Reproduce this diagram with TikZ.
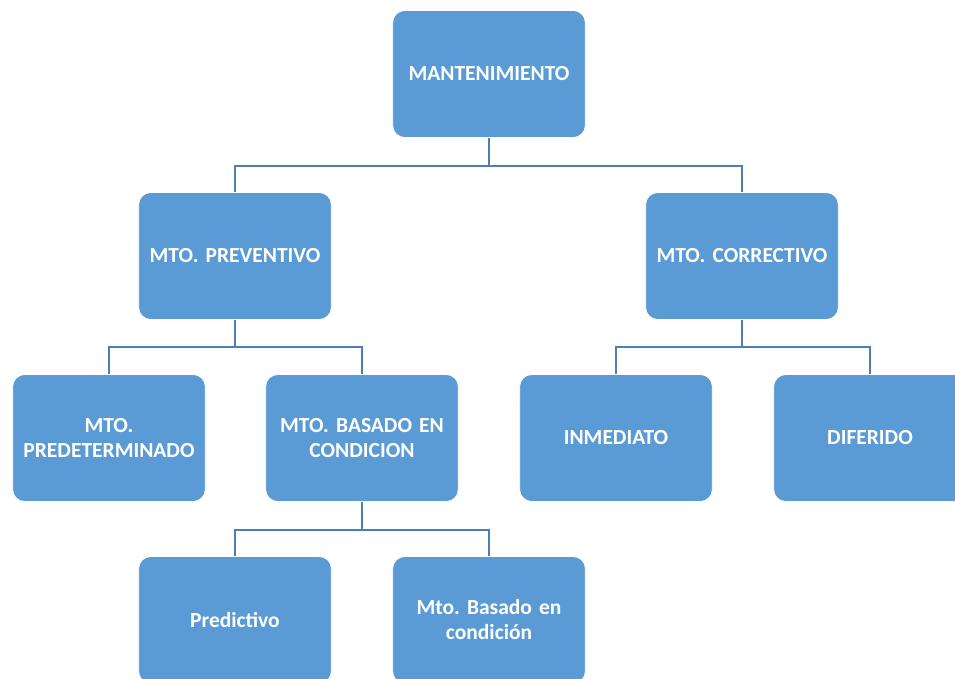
\documentclass[tikz,border=0pt]{standalone}
\usepackage{fontspec}
\setmainfont{Carlito}
\usetikzlibrary{positioning}
\definecolor{boxblue}{HTML}{5B9BD5}
\definecolor{lineblue}{HTML}{4A7EB4}
\frenchspacing

\begin{document}
\begin{tikzpicture}[
    x=1pt, y=-1pt,
    bluebox/.style={rectangle, rounded corners=12pt, fill=boxblue, draw=white, line width=0.8pt,
        minimum width=192pt, minimum height=127pt, text width=186pt, align=center,
        text=white, font=\fontsize{21.5}{25}\selectfont\bfseries},
    joint/.style={draw=lineblue, line width=2.8pt}
]
\useasboundingbox (0,0) rectangle (955,678);
\clip (0,0) rectangle (955,678);

\node[bluebox](mant) at (489,74){MANTENIMIENTO};

\node[bluebox](prev) at (235,256){MTO. PREVENTIVO};
\node[bluebox](corr) at (742,256){MTO. CORRECTIVO};

\node[bluebox](pred) at (109,438){MTO.\\PREDETERMINADO};
\node[bluebox](basa) at (362,438){MTO. BASADO EN\\CONDICION};
\node[bluebox](inme) at (616,438){INMEDIATO};
\node[bluebox](dife) at (870,438){DIFERIDO};

\node[bluebox](pdct) at (235,620){Predictivo};
\node[bluebox](mtob) at (489,620){Mto. Basado en\\condición};

\draw[joint] (mant.south) -- ++(0,28) -| (prev.north);
\draw[joint] (mant.south) -- ++(0,28) -| (corr.north);

\draw[joint] (prev.south) -- ++(0,27) -| (pred.north);
\draw[joint] (prev.south) -- ++(0,27) -| (basa.north);

\draw[joint] (corr.south) -- ++(0,27) -| (inme.north);
\draw[joint] (corr.south) -- ++(0,27) -| (dife.north);

\draw[joint] (basa.south) -- ++(0,28) -| (pdct.north);
\draw[joint] (basa.south) -- ++(0,28) -| (mtob.north);
\end{tikzpicture}
\end{document}
